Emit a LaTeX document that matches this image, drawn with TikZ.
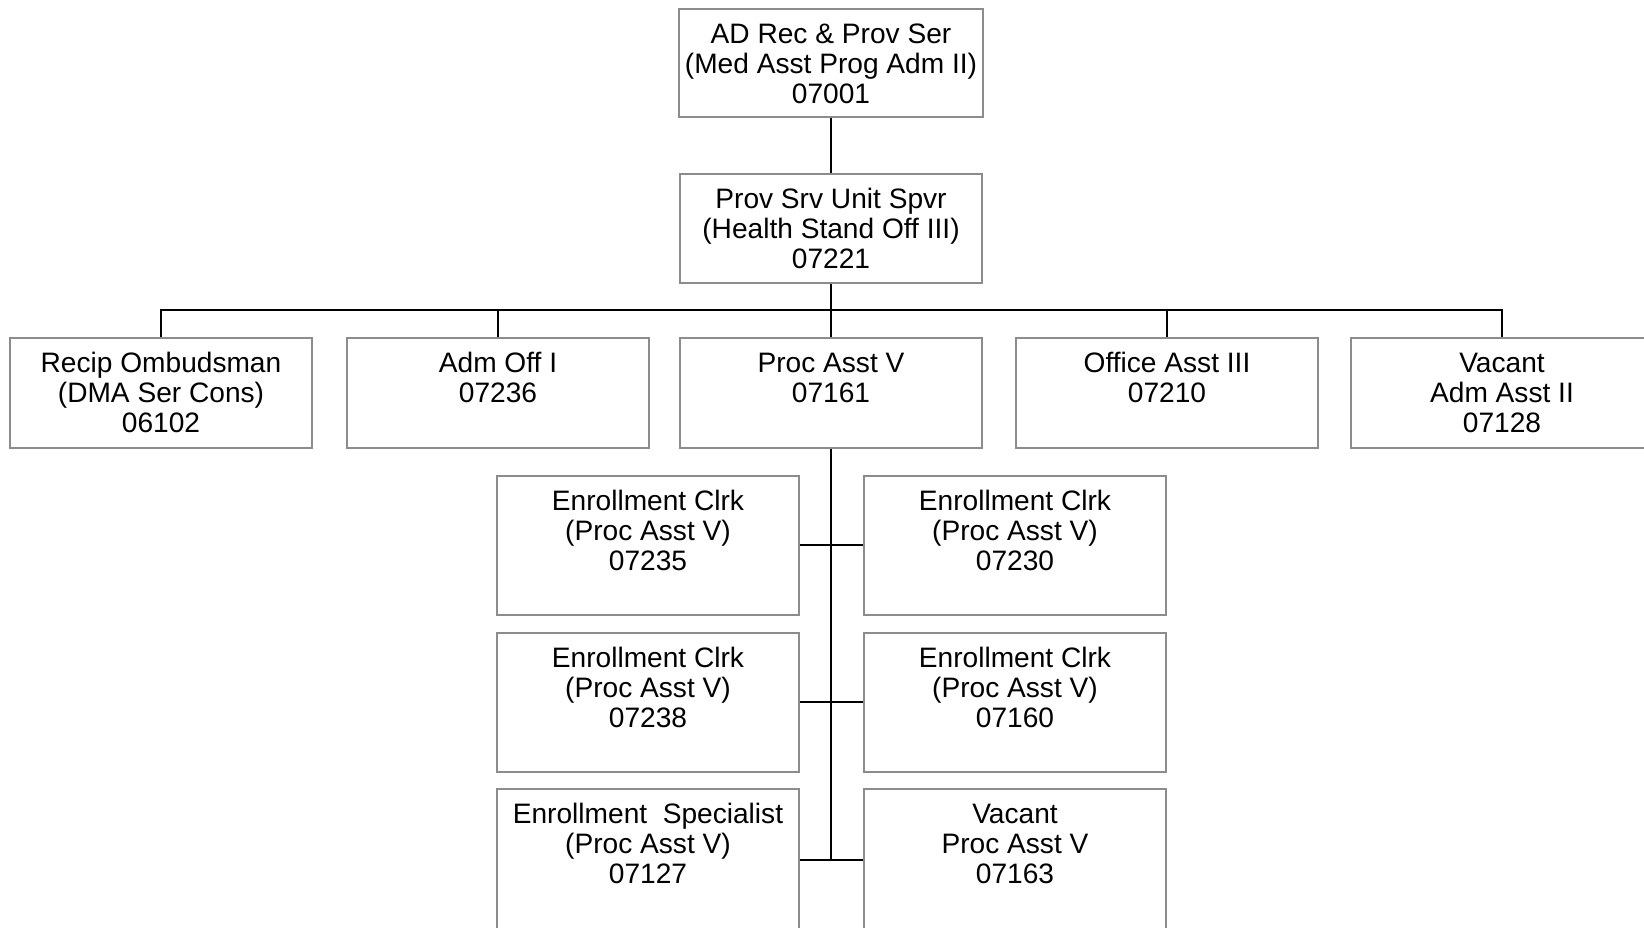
\documentclass[tikz,border=0pt]{standalone}
\usepackage{fontspec}
\setmainfont{Liberation Sans}
\usetikzlibrary{positioning}
\definecolor{boxgray}{gray}{0.55}
\newcommand{\postext}[1]{\begin{tabular}[t]{@{}c@{}}#1\end{tabular}}

\begin{document}
\begin{tikzpicture}[x=0.02cm, y=-0.02cm, line width=1.1pt,
		box/.style={draw=boxgray, line width=1.1pt, anchor=north, minimum width=6.04cm,
			inner ysep=0pt, font=\fontsize{16}{17}\selectfont,
			text height=0.69cm, text depth=1.51cm},
		tallbox/.style={box, text depth=2.09cm}]
	\clip (0,0) rectangle (1644,927);
	% chefia
	\node [box, text depth=1.47cm] (ad) at (831,8) {\postext{AD Rec \& Prov Ser\\(Med Asst Prog Adm II)\\07001}};
	\node [box, text depth=1.49cm] (spvr) at (831,173) {\postext{Prov Srv Unit Spvr\\(Health Stand Off III)\\07221}};
	
	% segunda linha
	\node [box] (ombud) at (161,337) {\postext{Recip Ombudsman\\(DMA Ser Cons)\\06102}};
	\node [box] (admoff) at (498,337) {\postext{Adm Off I\\07236}};
	\node [box] (proc) at (831,337) {\postext{Proc Asst V\\07161}};
	\node [box] (office) at (1167,337) {\postext{Office Asst III\\07210}};
	\node [box] (vacadm) at (1502,337) {\postext{Vacant\\Adm Asst II\\07128}};
	
	% equipe de inscricao
	\node [tallbox] (clrka) at (648,475) {\postext{Enrollment Clrk\\(Proc Asst V)\\07235}};
	\node [tallbox] (clrkb) at (1015,475) {\postext{Enrollment Clrk\\(Proc Asst V)\\07230}};
	\node [tallbox] (clrkc) at (648,632) {\postext{Enrollment Clrk\\(Proc Asst V)\\07238}};
	\node [tallbox] (clrkd) at (1015,632) {\postext{Enrollment Clrk\\(Proc Asst V)\\07160}};
	\node [tallbox, text depth=2.15cm] (spec) at (648,788) {\postext{Enrollment~~Specialist\\(Proc Asst V)\\07127}};
	\node [tallbox, text depth=2.15cm] (vacproc) at (1015,788) {\postext{Vacant\\Proc Asst V\\07163}};
	
	% ligacoes
	\coordinate (bus) at (831,310);
	\draw (ad.south) -- (spvr.north);
	\draw (spvr.south) -- (proc.north);
	\draw (ombud.north) |- (bus) -| (vacadm.north);
	\draw (admoff.north) -- (admoff.north |- bus);
	\draw (office.north) -- (office.north |- bus);
	\draw (proc.south) -- (proc.south |- spec.east);
	\draw (clrka.east) -- (clrkb.west);
	\draw (clrkc.east) -- (clrkd.west);
	\draw (spec.east) -- (vacproc.west);
\end{tikzpicture}
\end{document}
